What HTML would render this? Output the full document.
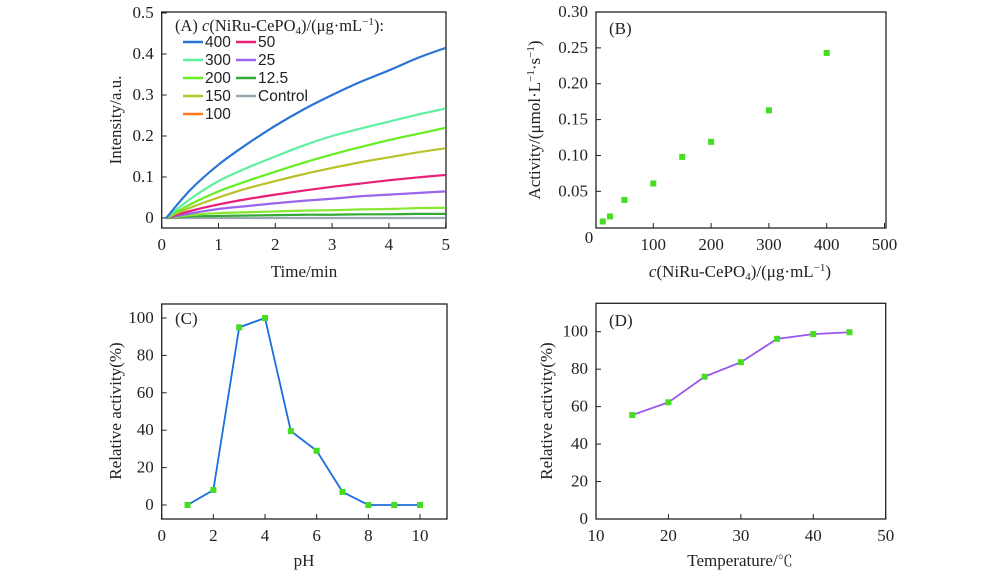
<!DOCTYPE html>
<html><head><meta charset="utf-8"><style>
body{margin:0;background:#fff;}
svg text{font-family:"Liberation Serif",serif;fill:#222;}
</style></head><body>
<svg id="fig" width="1000" height="577" viewBox="0 0 1000 577" xmlns="http://www.w3.org/2000/svg"></svg>
<script>
// Panel A data
const aTimes=[0,0.5,1,1.5,2,2.5,3,3.5,4,4.5,5];
const aLabels=["400","300","200","150","100","50","25","12.5","Control"];
const a400=[0,0.068,0.13,0.18,0.225,0.265,0.30,0.332,0.36,0.39,0.415];
const a300=[0,0.046,0.09,0.122,0.15,0.177,0.2,0.218,0.235,0.252,0.267];
const a200=[0,0.033,0.065,0.09,0.113,0.135,0.155,0.173,0.19,0.205,0.22];
const a150=[0,0.025,0.05,0.072,0.09,0.107,0.122,0.136,0.148,0.16,0.17];
const a100=[0,0.007,0.012,0.014,0.016,0.018,0.019,0.021,0.022,0.024,0.025];
const a50=[0,0.017,0.033,0.046,0.057,0.067,0.076,0.084,0.092,0.099,0.105];
const a25=[0,0.011,0.022,0.029,0.036,0.042,0.047,0.053,0.057,0.061,0.065];
const a12=[0,0.004,0.005,0.006,0.007,0.008,0.008,0.009,0.009,0.01,0.01];
const aCtl=[0,0,0,0,0,0,0,0,0,0,0];
const aColors=["#2a74d6","#5ef0a0","#66ee22","#b8c22a","#88e830","#e8207a","#9a66ee","#33aa33","#9aa8b0"];
const aLegendColors=["#2a74d6","#5ef0a0","#66ee22","#b8c22a","#ff7a1a","#e8207a","#9a66ee","#33aa33","#9aa8b0"];
const aTicksX=[0,1,2,3,4,5];
const aTicksY=[0,0.1,0.2,0.3,0.4,0.5];
// Panel B data
const bConc=[12.5,25,50,100,150,200,300,400];
const bAct=[0.008,0.015,0.038,0.061,0.098,0.119,0.163,0.243];
const bTicksX=[100,200,300,400,500];
const bTicksY=[0.05,0.10,0.15,0.20,0.25,0.30];
// Panel C data
const cPH=[1,2,3,4,5,6,7,8,9,10];
const cAct=[0,8,95,100,39.5,29,7,0,0,0];
const cTicksX=[0,2,4,6,8,10];
const cTicksY=[0,20,40,60,80,100];
// Panel D data
const dTemp=[15,20,25,30,35,40,45];
const dAct=[55.5,62.3,76,83.7,96.2,98.7,99.7];
const dTicksX=[10,20,30,40,50];
const dTicksY=[0,20,40,60,80,100];

const NS="http://www.w3.org/2000/svg";
const svg=document.getElementById('fig');
function el(tag,attrs,parent,txt){const e=document.createElementNS(NS,tag);for(const k in attrs)e.setAttribute(k,attrs[k]);if(txt!==undefined)e.textContent=txt;(parent||svg).appendChild(e);return e;}
function scale(d0,d1,r0,r1){return v=>r0+(v-d0)/(d1-d0)*(r1-r0);}
function frame(name,L,T,R,B,sx,sy,tx,ty,fmtX,fmtY){
  const g=el('g',{});
  
  
  const r=el('rect',{x:L,y:T,width:R-L,height:B-T,fill:'none',stroke:'#222','stroke-width':1.3},g);
  
  
  tx.forEach(v=>{const x=sx(v);el('line',{x1:x,y1:B,x2:x,y2:B-5,stroke:'#222'},g);
    const t=el('text',{x:x,y:B+22,'text-anchor':'middle','font-size':17},g,fmtX(v));
    });
  ty.forEach(v=>{const y=sy(v);el('line',{x1:L,y1:y,x2:L+5,y2:y,stroke:'#222'},g);
    const t=el('text',{x:L-8,y:y+5,'text-anchor':'end','font-size':17},g,fmtY(v));
    });
  return g;
}
function smooth(pts){let d='M'+pts[0][0]+','+pts[0][1];
  for(let i=0;i<pts.length-1;i++){const p0=pts[Math.max(0,i-1)],p1=pts[i],p2=pts[i+1],p3=pts[Math.min(pts.length-1,i+2)];
    const c1=[p1[0]+(p2[0]-p0[0])/6,p1[1]+(p2[1]-p0[1])/6],c2=[p2[0]-(p3[0]-p1[0])/6,p2[1]-(p3[1]-p1[1])/6];
    d+=' C'+c1+' '+c2+' '+p2;}return d;}

// Panel A
{const L=161.7,R=446,T=12,B=228;const sx=scale(0,5,161.7,445.7),sy=scale(0,0.5,218,13);
 const g=frame('panel-a',L,T,R,B,sx,sy,aTicksX,aTicksY,v=>String(v),v=>String(v));
 const series=[aCtl,a12,a100,a25,a50,a150,a200,a300,a400];
 const order=[8,7,4,6,5,3,2,1,0];
 series.forEach((s,i)=>{const ci=order[i];
  const pts=aTimes.map((t,j)=>[sx(t===0?0.08:t),sy(s[j])]);
  const p=el('path',{d:smooth(pts),fill:'none',stroke:aColors[ci],'stroke-width':2.2},g);
  });
 const lt=el('text',{x:175,y:31,'font-size':16.5},g);
 lt.innerHTML='(A) <tspan font-style="italic">c</tspan>(NiRu-CePO<tspan font-size="11" dy="3">4</tspan><tspan dy="-3">)/(μg·mL</tspan><tspan font-size="11" dy="-6">−1</tspan><tspan dy="6">):</tspan>';
 
 const cols=[[0,1,2,3,4],[5,6,7,8]];
 cols.forEach((c,ci)=>c.forEach((li,ri)=>{const x=ci?236:183,y=47+ri*18;
  const lg=el('g',{},g);
  el('line',{x1:x,y1:y-5,x2:x+20,y2:y-5,stroke:aLegendColors[li],'stroke-width':2.5},lg);
  el('text',{x:x+22,y:y,'font-size':15.5,style:'font-family:"Liberation Sans",sans-serif'},lg,aLabels[li]);}));
 const xt=el('text',{x:304,y:277,'text-anchor':'middle','font-size':17},g,'Time/min');
 const yt=el('text',{x:0,y:0,'text-anchor':'middle','font-size':17,transform:'translate(121,120) rotate(-90)'},g,'Intensity/a.u.');}

// Panel B
{const L=596,R=886,T=12,B=228;const sx=scale(0,500,595.5,884.5),sy=scale(0,0.3,227.2,12);
 const g=frame('panel-b',L,T,R,B,sx,sy,bTicksX,bTicksY,v=>String(v),v=>v.toFixed(2));
 const z=el('text',{x:589,y:243,'text-anchor':'middle','font-size':17},g,'0');
 bConc.forEach((c,i)=>{const m=el('rect',{x:sx(c)-3,y:sy(bAct[i])-3,width:6,height:6,fill:'#44dd22'},g);
  });
 const lab=el('text',{x:609,y:34,'font-size':17},g,'(B)');
 const xt=el('text',{x:740,y:277,'text-anchor':'middle','font-size':17},g);
 xt.innerHTML='<tspan font-style="italic">c</tspan>(NiRu-CePO<tspan font-size="11" dy="3">4</tspan><tspan dy="-3">)/(μg·mL</tspan><tspan font-size="11" dy="-6">−1</tspan><tspan dy="6">)</tspan>';
 
 const yt=el('text',{x:0,y:0,'text-anchor':'middle','font-size':17,transform:'translate(540,120) rotate(-90)'},g);
 yt.innerHTML='Activity/(μmol·L<tspan font-size="11" dy="-6">−1</tspan><tspan dy="6">·s</tspan><tspan font-size="11" dy="-6">−1</tspan><tspan dy="6">)</tspan>';
 }

// Panel C
{const L=161.7,R=447,T=304,B=519;const sx=scale(0,10,161.7,420),sy=scale(0,100,505,318);
 const g=frame('panel-c',L,T,R,B,sx,sy,cTicksX,cTicksY,v=>String(v),v=>String(v));
 const pl=el('polyline',{points:cPH.map((p,i)=>sx(p)+','+sy(cAct[i])).join(' '),fill:'none',stroke:'#1a6fdc','stroke-width':1.8},g);
 
 cPH.forEach((p,i)=>{const m=el('rect',{x:sx(p)-3,y:sy(cAct[i])-3,width:6,height:6,fill:'#44dd22'},g);
  });
 const lab=el('text',{x:175,y:324,'font-size':17},g,'(C)');
 const xt=el('text',{x:304,y:566,'text-anchor':'middle','font-size':17},g,'pH');
 const yt=el('text',{x:0,y:0,'text-anchor':'middle','font-size':17,transform:'translate(121,411) rotate(-90)'},g,'Relative activity(%)');}

// Panel D
{const L=596,R=885.7,T=303.3,B=519;const sx=scale(10,50,596,885.7),sy=scale(0,100,519,331.7);
 const g=frame('panel-d',L,T,R,B,sx,sy,dTicksX,dTicksY,v=>String(v),v=>String(v));
 const pl=el('polyline',{points:dTemp.map((p,i)=>sx(p)+','+sy(dAct[i])).join(' '),fill:'none',stroke:'#9a55ee','stroke-width':1.8},g);
 
 dTemp.forEach((p,i)=>{const m=el('rect',{x:sx(p)-3,y:sy(dAct[i])-3,width:6,height:6,fill:'#44dd22'},g);
  });
 const lab=el('text',{x:609,y:326,'font-size':17},g,'(D)');
 const xt=el('text',{x:740,y:566,'text-anchor':'middle','font-size':17},g);
 xt.innerHTML='Temperature/<tspan style="font-family:\'Noto Serif CJK SC\',serif" font-size="15">℃</tspan>';
 
 const yt=el('text',{x:0,y:0,'text-anchor':'middle','font-size':17,transform:'translate(552,411) rotate(-90)'},g,'Relative activity(%)');}
</script>
</body></html>
